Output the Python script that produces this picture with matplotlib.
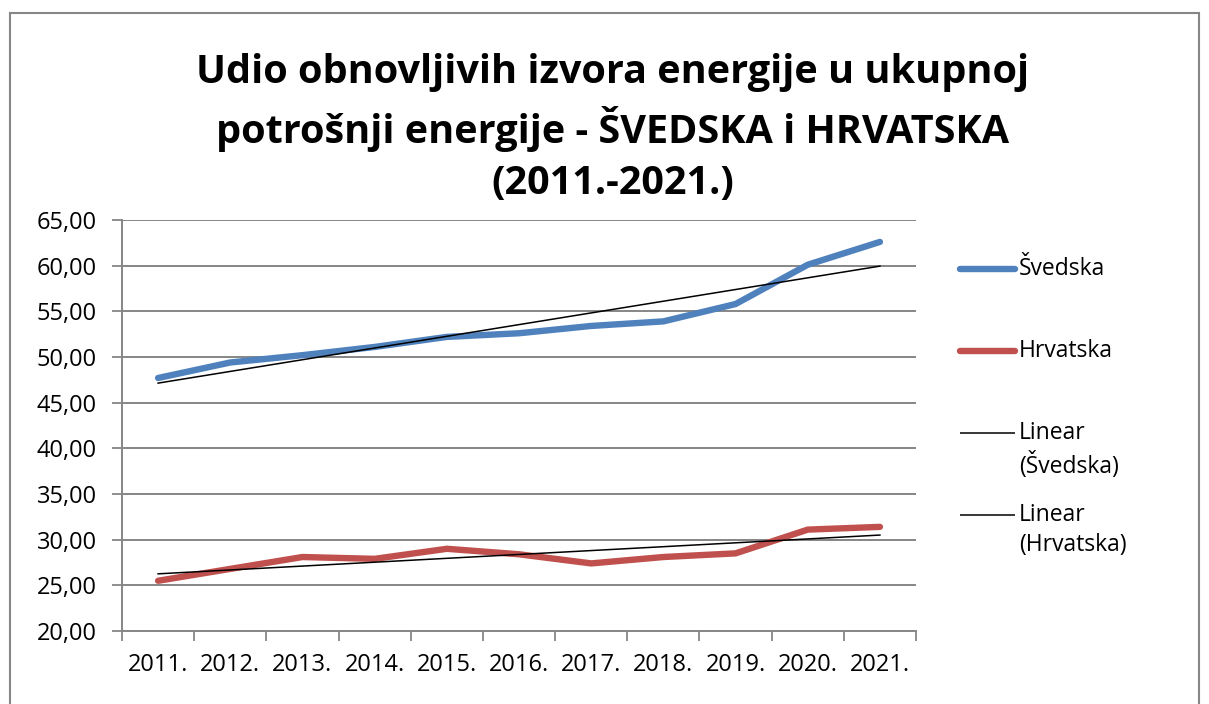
import numpy as np
import matplotlib
matplotlib.use("Agg")
import matplotlib.pyplot as plt
from matplotlib.lines import Line2D
from matplotlib.patches import Rectangle
from matplotlib.ticker import FuncFormatter

plt.rcParams["font.family"] = ["Open Sans", "DejaVu Sans"]

# data
years = ["2011.", "2012.", "2013.", "2014.", "2015.", "2016.",
         "2017.", "2018.", "2019.", "2020.", "2021."]
svedska = [47.7, 49.4, 50.2, 51.1, 52.2, 52.6, 53.4, 53.9, 55.8, 60.1, 62.6]
hrvatska = [25.5, 26.8, 28.1, 27.9, 29.0, 28.4, 27.4, 28.1, 28.5, 31.1, 31.4]
series_names = ["Švedska", "Hrvatska"]
trend_names = ["Linear\n(Švedska)", "Linear\n(Hrvatska)"]
colours = ["#4F81BD", "#C0504D"]
grid_col = "#868686"

W, H = 1209, 704
fig = plt.figure(figsize=(W / 100, H / 100), dpi=100)
ax = fig.add_axes([122 / W, 1 - 631 / H, (916 - 122) / W, (631 - 220) / H])

x = np.arange(len(years)) + 0.5
idx = np.arange(1, len(years) + 1)
for vals, col in zip([svedska, hrvatska], colours):
    ax.plot(x, vals, color=col, linewidth=4.6, solid_capstyle="round", zorder=3)
    k, b = np.polyfit(idx, vals, 1)
    ax.plot(x, k * idx + b, color="black", linewidth=1.1, zorder=4)

ax.set_xlim(0, len(years))
ax.set_ylim(20, 65)
ax.set_yticks(np.arange(20, 66, 5))
ax.yaxis.set_major_formatter(FuncFormatter(lambda v, p: f"{v:.2f}".replace(".", ",")))
ax.set_xticks(x)
ax.set_xticklabels(years)
ax.set_xticks(np.arange(0, len(years) + 1), minor=True)
ax.tick_params(axis="x", which="major", length=0, pad=16, labelsize=17)
ax.tick_params(axis="x", which="minor", length=7, width=1.3, color=grid_col)
ax.tick_params(axis="y", length=7, width=1.3, color=grid_col, pad=11, labelsize=17)
ax.grid(axis="y", color=grid_col, linewidth=1.4)
ax.set_axisbelow(True)
for s in ["top", "right"]:
    ax.spines[s].set_visible(False)
for s in ["left", "bottom"]:
    ax.spines[s].set_color(grid_col)
    ax.spines[s].set_linewidth(1.4)

fig.text(613 / W, 1 - 128 / H,
         "Udio obnovljivih izvora energije u ukupnoj\n"
         "potrošnji energije - ŠVEDSKA i HRVATSKA\n(2011.-2021.)",
         ha="center", va="center", fontsize=28.5, fontweight="bold",
         linespacing=1.4)

# legend, Excel style (handle lined up with the first text line)
labels = series_names + trend_names
handle_cols = colours + ["black", "black"]
handle_lw = [4.6, 4.6, 1.1, 1.1]
for i, (lab, c, lw) in enumerate(zip(labels, handle_cols, handle_lw)):
    yy = 1 - (269 + 82 * i) / H
    fig.add_artist(Line2D([960 / W, 1015 / W], [yy, yy], color=c, linewidth=lw,
                          solid_capstyle="round" if lw > 2 else "butt"))
    fig.text(1019 / W, yy + 12 / H, lab, ha="left", va="top", fontsize=16.5,
             linespacing=1.35)

fig.add_artist(Rectangle((10 / W, -0.05), (1199 - 10) / W, 0.05 + 1 - 13 / H,
                         fill=False, edgecolor=grid_col, linewidth=1.5,
                         transform=fig.transFigure))

plt.savefig("out.png", dpi=100)
